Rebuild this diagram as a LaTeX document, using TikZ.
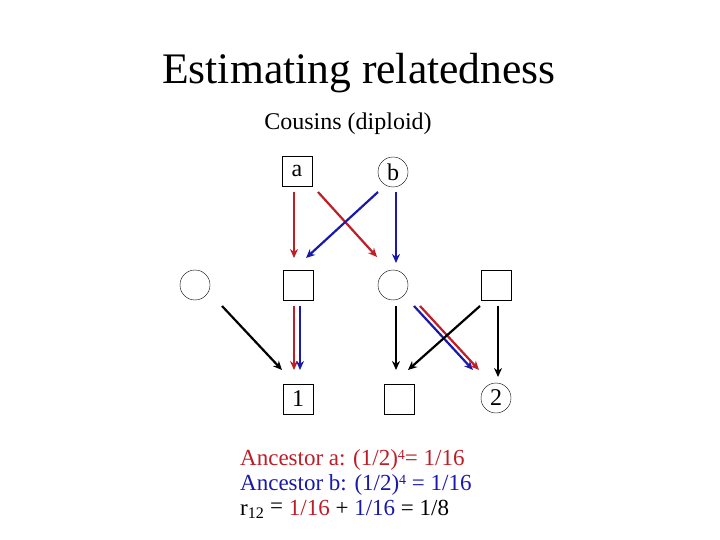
\documentclass[tikz,border=0pt]{standalone}
\usepackage{fontspec}
\setmainfont{Liberation Serif}
\usetikzlibrary{arrows.meta}
\definecolor{ancred}{RGB}{190,30,40}
\definecolor{ancblue}{RGB}{25,25,170}
\newcommand\pw[1]{\raisebox{6pt}{\fontsize{14}{14}\selectfont #1}}
\tikzset{
  male/.style={
    shape = rectangle,
    draw,
    minimum size = 30pt,
    inner sep = 0pt,
    outer sep = 0pt,
    font = \fontsize{24}{28}\selectfont
  },
  female/.style={
    shape = circle,
    draw,
    minimum size = 30pt,
    inner sep = 0pt,
    outer sep = 0pt,
    font = \fontsize{24}{28}\selectfont
  },
  gene/.style={
    line width = 2.2pt,
    -{Stealth[length=9pt,width=8pt]}
  },
  eqline/.style={
    anchor = base west,
    font = \fontsize{23}{26}\selectfont,
    inner sep = 0pt
  }
}
\begin{document}
\begin{tikzpicture}[x=1pt,y=-1pt]
        \useasboundingbox[fill=white] (0,0) rectangle (720,540);

        \node[anchor=base, font=\fontsize{43.6}{52}\selectfont] (title) at (359,84) {Estimating relatedness};
        \node[anchor=base, font=\fontsize{24}{28}\selectfont] (sub) at (348,130) {Cousins (diploid)};

        % grandparents
        \node[male]   (a) at (297,171) {a};
        \node[female] (b) at (393,172) {b};

        % parents
        \node[female] (p1) at (195,285) {};
        \node[male]   (p2) at (298,285) {};
        \node[female] (p3) at (393,285) {};
        \node[male]   (p4) at (496,285) {};

        % offspring
        \node[male]   (c1) at (298,399) {1};
        \node[male]   (c2) at (399,399) {};
        \node[female] (c3) at (496,398) {2};

        \draw[gene, ancred]  ([shift={(-3,6)}]a.south) -- ([shift={(-4,-12)}]p2.north);
        \draw[gene, ancred]  ([shift={(6,6)}]a.south east) -- ([shift={(-16,-13)}]p3.north);
        \draw[gene, ancblue] ([shift={(-4.4,9.4)}]b.south west) -- ([shift={(-7,-12)}]p2.north east);
        \draw[gene, ancblue] ([shift={(3,5)}]b.south) -- ([shift={(3,-7)}]p3.north);

        \draw[gene]          ([shift={(16.4,10.4)}]p1.south east) -- ([shift={(-1,-14)}]c1.north west);
        \draw[gene, ancred]  ([shift={(-4,6)}]p2.south) -- ([shift={(-4,-14)}]c1.north);
        \draw[gene, ancblue] ([shift={(2,6)}]p2.south) -- ([shift={(2,-14)}]c1.north);
        \draw[gene]          ([shift={(3,6)}]p3.south) -- ([shift={(-3,-14)}]c2.north);
        \draw[gene, ancblue] ([shift={(10.4,10.4)}]p3.south east) -- ([shift={(-23,-13)}]c3.north);
        \draw[gene, ancred]  ([shift={(16.4,10.4)}]p3.south east) -- ([shift={(-17,-13)}]c3.north);
        \draw[gene]          ([shift={(-1,6)}]p4.south west) -- ([shift={(-6,-14)}]c2.north east);
        \draw[gene]          ([shift={(2,6)}]p4.south) -- ([shift={(2,-6)}]c3.north);

        % coefficients
        \node[eqline, text=ancred]  (la) at (240,465) {Ancestor a: (1/2)\pw{4}= 1/16};
        \node[eqline, text=ancblue] (lb) at (240,490) {Ancestor b: (1/2)\pw{4} = 1/16};
        \node[eqline] (lr) at (240,515) {r\textsubscript{12} \raisebox{2pt}{=} \textcolor{ancred}{1/16} + \textcolor{ancblue}{1/16} = 1/8};
\end{tikzpicture}
\end{document}
